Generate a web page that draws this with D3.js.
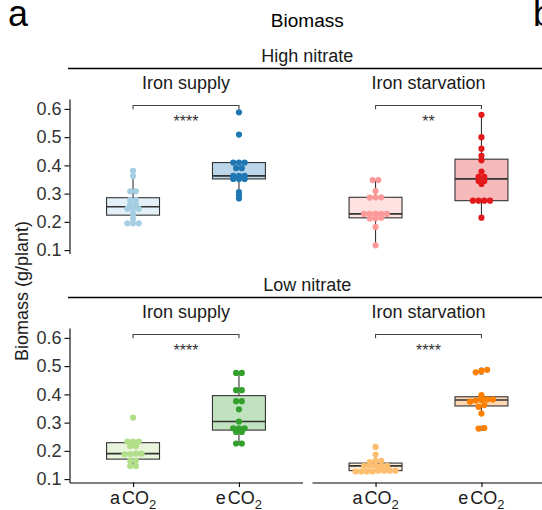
<!DOCTYPE html>
<html>
<head>
<meta charset="utf-8">
<script src="https://cdn.jsdelivr.net/npm/d3@7"></script>
<style>
  html, body { margin: 0; padding: 0; background: #fff; overflow: hidden; }
  text { font-family: "Liberation Sans", Arial, Helvetica, sans-serif; }
</style>
</head>
<body>
<svg id="chart" width="542" height="510"></svg>
<script>
// ---- data -------------------------------------------------------------
const co2Levels = ["aCO2", "eCO2"];
const nitrateLevels = ["High nitrate", "Low nitrate"];
const ironLevels = ["Iron supply", "Iron starvation"];
const yTicks = [0.1, 0.2, 0.3, 0.4, 0.5, 0.6];

// biomass per plant (g), one array per nitrate x iron x CO2 group
const highSupply_aCO2 = [0.195, 0.195, 0.195, 0.211, 0.228, 0.246, 0.246, 0.246, 0.261, 0.261, 0.278, 0.278, 0.308, 0.308, 0.362, 0.381];
const highSupply_eCO2 = [0.283, 0.295, 0.305, 0.352, 0.352, 0.352, 0.363, 0.363, 0.363, 0.39, 0.39, 0.41, 0.41, 0.41, 0.509, 0.588];
const highStarve_aCO2 = [0.117, 0.182, 0.212, 0.212, 0.215, 0.228, 0.228, 0.228, 0.228, 0.228, 0.286, 0.287, 0.287, 0.309, 0.348, 0.348];
const highStarve_eCO2 = [0.215, 0.275, 0.275, 0.275, 0.275, 0.334, 0.345, 0.345, 0.359, 0.359, 0.378, 0.418, 0.434, 0.459, 0.500, 0.579];
const lowSupply_aCO2 = [0.146, 0.146, 0.165, 0.165, 0.188, 0.188, 0.19, 0.19, 0.217, 0.217, 0.233, 0.233, 0.233, 0.318];
const lowSupply_eCO2 = [0.226, 0.226, 0.267, 0.267, 0.28, 0.28, 0.28, 0.304, 0.347, 0.376, 0.376, 0.415, 0.415, 0.476, 0.476];
const lowStarve_aCO2 = [0.127, 0.127, 0.127, 0.127, 0.13, 0.13, 0.13, 0.13, 0.147, 0.147, 0.147, 0.147, 0.147, 0.16, 0.165, 0.165, 0.187, 0.214];
const lowStarve_eCO2 = [0.279, 0.281, 0.332, 0.356, 0.362, 0.374, 0.378, 0.38, 0.382, 0.382, 0.386, 0.397, 0.478, 0.483, 0.487];

// significance labels: [nitrate][iron]
const significance = [["****", "**"], ["****", "****"]];
const bracketValue = 0.612;

// paired colours: [nitrate][iron][co2]
const groupColors = [
  [["#a6cee3", "#1f78b4"], ["#fb9a99", "#e31a1c"]],
  [["#b2df8a", "#33a02c"], ["#fdbf6f", "#ff7f00"]]
];

const groups = [
  [[highSupply_aCO2, highSupply_eCO2], [highStarve_aCO2, highStarve_eCO2]],
  [[lowSupply_aCO2, lowSupply_eCO2], [lowStarve_aCO2, lowStarve_eCO2]]
];

// ---- layout -----------------------------------------------------------
const panelX = [[69.5, 302.5], [312, 545]];
const panelY = [[99, 253.5], [328, 482.5]];
const yDomain = [0.088, 0.635];
const dotR = 3.1, dotStep = 5.7, binWidth = 0.0095;
const ink = "#333333";

const svg = d3.select("#chart");

// box statistics (R type-7 quantiles, 1.5 IQR whiskers)
function boxStats(values) {
  const s = values.slice().sort(d3.ascending);
  const q1 = d3.quantileSorted(s, 0.25), med = d3.quantileSorted(s, 0.5), q3 = d3.quantileSorted(s, 0.75);
  const iqr = q3 - q1, lo = q1 - 1.5 * iqr, hi = q3 + 1.5 * iqr;
  const inside = s.filter(v => v >= lo && v <= hi);
  return { q1, med, q3, wLo: d3.min(inside), wHi: d3.max(inside), outliers: s.filter(v => v < lo || v > hi) };
}

// centred-row swarm: close values share a row, rows are centred on the category
function swarm(values) {
  const s = values.slice().sort(d3.ascending);
  const bins = [];
  let cur = null;
  for (const v of s) {
    if (!cur || v - cur.start > binWidth) { cur = { start: v, items: [] }; bins.push(cur); }
    cur.items.push(v);
  }
  const out = [];
  bins.forEach(b => {
    const n = b.items.length;
    b.items.forEach((v, k) => out.push({ value: v, offset: k - (n - 1) / 2 }));
  });
  return out;
}

// ---- titles -----------------------------------------------------------
svg.append("text").attr("x", 8).attr("y", 26).attr("font-size", 36).attr("fill", "#000").text("a");
svg.append("text").attr("x", 533).attr("y", 26).attr("font-size", 36).attr("fill", "#000").text("b");
svg.append("text").attr("x", 307.3).attr("y", 26.5).attr("text-anchor", "middle")
  .attr("font-size", 19).attr("fill", "#000").text("Biomass");

svg.append("text")
  .attr("transform", "translate(28,291) rotate(-90)")
  .attr("text-anchor", "middle").attr("font-size", 18).attr("fill", "#1a1a1a")
  .text("Biomass (g/plant)");

nitrateLevels.forEach((nitrate, r) => {
  const [top, bottom] = panelY[r];
  const y = d3.scaleLinear().domain(yDomain).range([bottom, top]);

  // nitrate strip
  svg.append("text").attr("x", (panelX[0][0] + panelX[1][1]) / 2).attr("y", top - 37.5)
    .attr("text-anchor", "middle").attr("font-size", 18).attr("fill", "#1a1a1a").text(nitrate);
  svg.append("line").attr("x1", 68).attr("x2", 545).attr("y1", top - 30.5).attr("y2", top - 30.5)
    .attr("stroke", "#000").attr("stroke-width", 1.3);

  // y axis on the left column
  const yAxis = svg.append("g").attr("transform", `translate(${panelX[0][0]},0)`)
    .call(d3.axisLeft(y).tickValues(yTicks).tickFormat(d3.format(".1f")).tickSize(5).tickSizeOuter(0).tickPadding(3));
  yAxis.select(".domain").attr("stroke", "#000").attr("stroke-width", 1.1);
  yAxis.selectAll(".tick line").attr("stroke", "#000").attr("stroke-width", 1.1);
  yAxis.selectAll(".tick text").attr("font-size", 18).attr("fill", "#333")
    .attr("font-family", "'Liberation Sans', Arial, sans-serif");

  ironLevels.forEach((iron, c) => {
    const [left, right] = panelX[c];
    const x = d3.scalePoint().domain(co2Levels).range([left, right]).padding(0.6);
    const step = x.step();

    // iron strip text
    svg.append("text").attr("x", (left + right) / 2).attr("y", top - 10.4)
      .attr("text-anchor", "middle").attr("font-size", 18).attr("fill", "#1a1a1a").text(iron);

    // x axis only on the bottom row
    if (r === nitrateLevels.length - 1) {
      const xAxis = svg.append("g").attr("transform", `translate(0,${bottom})`)
        .call(d3.axisBottom(x).tickSize(4.5).tickSizeOuter(0).tickFormat(""));
      xAxis.select(".domain").attr("stroke", "#000").attr("stroke-width", 1.1);
      xAxis.selectAll(".tick line").attr("stroke", "#000").attr("stroke-width", 1.1);
      co2Levels.forEach(lvl => {
        const t = svg.append("text").attr("x", x(lvl)).attr("y", bottom + 21.5)
          .attr("text-anchor", "middle").attr("font-size", 18).attr("fill", "#1a1a1a");
        t.append("tspan").text(lvl.slice(0, 1));
        t.append("tspan").attr("dx", 2).text(lvl.slice(1, 3));
        t.append("tspan").attr("font-size", 13).attr("dy", 4.5).text(lvl.slice(3));
      });
    }

    const g = svg.append("g");
    co2Levels.forEach((lvl, k) => {
      const vals = groups[r][c][k];
      const col = groupColors[r][c][k];
      const st = boxStats(vals);
      const cx = x(lvl);
      const bw = step * 0.5;

      g.append("line").attr("x1", cx).attr("x2", cx).attr("y1", y(st.q3)).attr("y2", y(st.wHi))
        .attr("stroke", ink).attr("stroke-width", 1.1);
      g.append("line").attr("x1", cx).attr("x2", cx).attr("y1", y(st.q1)).attr("y2", y(st.wLo))
        .attr("stroke", ink).attr("stroke-width", 1.1);
      g.append("rect").attr("x", cx - bw / 2).attr("width", bw)
        .attr("y", y(st.q3)).attr("height", y(st.q1) - y(st.q3))
        .attr("fill", col).attr("fill-opacity", 0.3)
        .attr("stroke", ink).attr("stroke-width", 1.1);
      g.append("line").attr("x1", cx - bw / 2).attr("x2", cx + bw / 2)
        .attr("y1", y(st.med)).attr("y2", y(st.med))
        .attr("stroke", ink).attr("stroke-width", 1.7);

      g.selectAll(null).data(st.outliers).join("circle")
        .attr("cx", cx).attr("cy", d => y(d)).attr("r", 2.6).attr("fill", "#8c8c8c");

      g.selectAll(null).data(swarm(vals)).join("circle")
        .attr("cx", d => cx + d.offset * dotStep).attr("cy", d => y(d.value))
        .attr("r", dotR).attr("fill", col);
    });

    // significance bracket
    const xa = x(co2Levels[0]), xb = x(co2Levels[1]);
    const by = y(bracketValue);
    g.append("path")
      .attr("d", `M${xa},${by + 3.8}V${by}H${xb}V${by + 3.8}`)
      .attr("fill", "none").attr("stroke", "#444").attr("stroke-width", 1.1);
    g.append("text").attr("x", (xa + xb) / 2).attr("y", by + 21.8)
      .attr("text-anchor", "middle").attr("font-size", 16).attr("fill", "#333")
      .text(significance[r][c]);
  });
});
</script>
</body>
</html>
